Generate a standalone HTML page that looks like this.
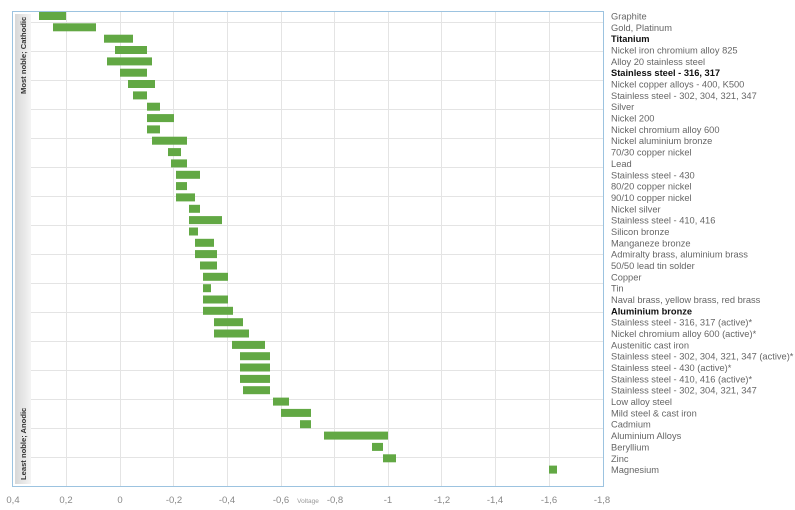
<!DOCTYPE html>
<html><head><meta charset="utf-8"><style>
html,body{margin:0;padding:0;background:#fff;}
svg{display:block;font-family:"Liberation Sans",Arial,sans-serif;}
.l{font-size:9.3px;fill:#666;}
.b{font-size:9.3px;fill:#111;font-weight:bold;}
.t{font-size:9.5px;fill:#888;}
</style></head><body>
<svg width="795" height="510" viewBox="0 0 795 510">
<defs><linearGradient id="g" x1="0" x2="1"><stop offset="0" stop-color="#d8d8d8"/><stop offset="1" stop-color="#f4f4f4"/></linearGradient></defs>
<rect x="15" y="14" width="16" height="470" fill="url(#g)"/>
<g stroke="#e4e4e4" stroke-width="1">
<line x1="66.5" y1="12" x2="66.5" y2="486"/><line x1="120.5" y1="12" x2="120.5" y2="486"/><line x1="173.5" y1="12" x2="173.5" y2="486"/><line x1="227.5" y1="12" x2="227.5" y2="486"/><line x1="281.5" y1="12" x2="281.5" y2="486"/><line x1="334.5" y1="12" x2="334.5" y2="486"/><line x1="388.5" y1="12" x2="388.5" y2="486"/><line x1="441.5" y1="12" x2="441.5" y2="486"/><line x1="495.5" y1="12" x2="495.5" y2="486"/><line x1="549.5" y1="12" x2="549.5" y2="486"/>
<line x1="31" y1="22.5" x2="603" y2="22.5"/><line x1="31" y1="51.5" x2="603" y2="51.5"/><line x1="31" y1="80.5" x2="603" y2="80.5"/><line x1="31" y1="109.5" x2="603" y2="109.5"/><line x1="31" y1="138.5" x2="603" y2="138.5"/><line x1="31" y1="167.5" x2="603" y2="167.5"/><line x1="31" y1="196.5" x2="603" y2="196.5"/><line x1="31" y1="225.5" x2="603" y2="225.5"/><line x1="31" y1="254.5" x2="603" y2="254.5"/><line x1="31" y1="283.5" x2="603" y2="283.5"/><line x1="31" y1="312.5" x2="603" y2="312.5"/><line x1="31" y1="341.5" x2="603" y2="341.5"/><line x1="31" y1="370.5" x2="603" y2="370.5"/><line x1="31" y1="399.5" x2="603" y2="399.5"/><line x1="31" y1="428.5" x2="603" y2="428.5"/><line x1="31" y1="457.5" x2="603" y2="457.5"/>
</g>
<rect x="12.5" y="11.5" width="591" height="475" fill="none" stroke="#9cc3e0" stroke-width="1"/>
<text transform="translate(26,94) rotate(-90)" font-size="7.6" font-weight="bold" fill="#333">Most noble; Cathodic</text>
<text transform="translate(26,480) rotate(-90)" font-size="7.6" font-weight="bold" fill="#333">Least noble; Anodic</text>
<g fill="#62a844">
<rect x="39" y="12" width="27" height="8"/>
<rect x="53" y="23.3" width="43" height="8"/>
<rect x="104" y="34.7" width="29" height="8"/>
<rect x="115" y="46" width="32" height="8"/>
<rect x="107" y="57.4" width="45" height="8"/>
<rect x="120" y="68.7" width="27" height="8"/>
<rect x="128" y="80" width="27" height="8"/>
<rect x="133" y="91.4" width="14" height="8"/>
<rect x="147" y="102.7" width="13" height="8"/>
<rect x="147" y="114.1" width="27" height="8"/>
<rect x="147" y="125.4" width="13" height="8"/>
<rect x="152" y="136.7" width="35" height="8"/>
<rect x="168" y="148.1" width="13" height="8"/>
<rect x="171" y="159.4" width="16" height="8"/>
<rect x="176" y="170.8" width="24" height="8"/>
<rect x="176" y="182.1" width="11" height="8"/>
<rect x="176" y="193.4" width="19" height="8"/>
<rect x="189" y="204.8" width="11" height="8"/>
<rect x="189" y="216.1" width="33" height="8"/>
<rect x="189" y="227.5" width="9" height="8"/>
<rect x="195" y="238.8" width="19" height="8"/>
<rect x="195" y="250.1" width="22" height="8"/>
<rect x="200" y="261.5" width="17" height="8"/>
<rect x="203" y="272.8" width="25" height="8"/>
<rect x="203" y="284.2" width="8" height="8"/>
<rect x="203" y="295.5" width="25" height="8"/>
<rect x="203" y="306.8" width="30" height="8"/>
<rect x="214" y="318.2" width="29" height="8"/>
<rect x="214" y="329.5" width="35" height="8"/>
<rect x="232" y="340.9" width="33" height="8"/>
<rect x="240" y="352.2" width="30" height="8"/>
<rect x="240" y="363.5" width="30" height="8"/>
<rect x="240" y="374.9" width="30" height="8"/>
<rect x="243" y="386.2" width="27" height="8"/>
<rect x="273" y="397.6" width="16" height="8"/>
<rect x="281" y="408.9" width="30" height="8"/>
<rect x="300" y="420.2" width="11" height="8"/>
<rect x="324" y="431.6" width="64" height="8"/>
<rect x="372" y="442.9" width="11" height="8"/>
<rect x="383" y="454.3" width="13" height="8"/>
<rect x="549" y="465.6" width="8" height="8"/>
</g>
<g>
<text x="611" y="19.5" class="l">Graphite</text>
<text x="611" y="30.8" class="l">Gold, Platinum</text>
<text x="611" y="42.2" class="b">Titanium</text>
<text x="611" y="53.5" class="l">Nickel iron chromium alloy 825</text>
<text x="611" y="64.9" class="l">Alloy 20 stainless steel</text>
<text x="611" y="76.2" class="b">Stainless steel - 316, 317</text>
<text x="611" y="87.5" class="l">Nickel copper alloys - 400, K500</text>
<text x="611" y="98.9" class="l">Stainless steel - 302, 304, 321, 347</text>
<text x="611" y="110.2" class="l">Silver</text>
<text x="611" y="121.6" class="l">Nickel 200</text>
<text x="611" y="132.9" class="l">Nickel chromium alloy 600</text>
<text x="611" y="144.2" class="l">Nickel aluminium bronze</text>
<text x="611" y="155.6" class="l">70/30 copper nickel</text>
<text x="611" y="166.9" class="l">Lead</text>
<text x="611" y="178.3" class="l">Stainless steel - 430</text>
<text x="611" y="189.6" class="l">80/20 copper nickel</text>
<text x="611" y="200.9" class="l">90/10 copper nickel</text>
<text x="611" y="212.3" class="l">Nickel silver</text>
<text x="611" y="223.6" class="l">Stainless steel - 410, 416</text>
<text x="611" y="235" class="l">Silicon bronze</text>
<text x="611" y="246.3" class="l">Manganeze bronze</text>
<text x="611" y="257.6" class="l">Admiralty brass, aluminium brass</text>
<text x="611" y="269" class="l">50/50 lead tin solder</text>
<text x="611" y="280.3" class="l">Copper</text>
<text x="611" y="291.7" class="l">Tin</text>
<text x="611" y="303" class="l">Naval brass, yellow brass, red brass</text>
<text x="611" y="314.3" class="b">Aluminium bronze</text>
<text x="611" y="325.7" class="l">Stainless steel - 316, 317 (active)*</text>
<text x="611" y="337" class="l">Nickel chromium alloy 600 (active)*</text>
<text x="611" y="348.4" class="l">Austenitic cast iron</text>
<text x="611" y="359.7" class="l">Stainless steel - 302, 304, 321, 347 (active)*</text>
<text x="611" y="371" class="l">Stainless steel - 430 (active)*</text>
<text x="611" y="382.4" class="l">Stainless steel - 410, 416 (active)*</text>
<text x="611" y="393.7" class="l">Stainless steel - 302, 304, 321, 347</text>
<text x="611" y="405.1" class="l">Low alloy steel</text>
<text x="611" y="416.4" class="l">Mild steel &amp; cast iron</text>
<text x="611" y="427.7" class="l">Cadmium</text>
<text x="611" y="439.1" class="l">Aluminium Alloys</text>
<text x="611" y="450.4" class="l">Beryllium</text>
<text x="611" y="461.8" class="l">Zinc</text>
<text x="611" y="473.1" class="l">Magnesium</text>
</g>
<g class="t" text-anchor="middle">
<text x="13" y="503" class="t">0,4</text>
<text x="66" y="503" class="t">0,2</text>
<text x="120" y="503" class="t">0</text>
<text x="174" y="503" class="t">-0,2</text>
<text x="227" y="503" class="t">-0,4</text>
<text x="281" y="503" class="t">-0,6</text>
<text x="335" y="503" class="t">-0,8</text>
<text x="388" y="503" class="t">-1</text>
<text x="442" y="503" class="t">-1,2</text>
<text x="495" y="503" class="t">-1,4</text>
<text x="549" y="503" class="t">-1,6</text>
<text x="602" y="503" class="t">-1,8</text>
<text x="308" y="503" font-size="6.5" fill="#999">Voltage</text>
</g>
</svg>
</body></html>
